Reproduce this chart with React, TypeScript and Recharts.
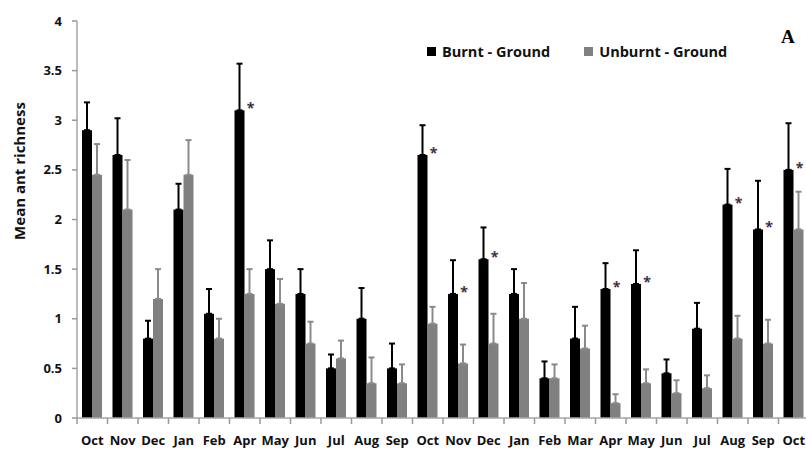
import React from "react";
import {
  BarChart,
  Bar,
  XAxis,
  YAxis,
  ErrorBar,
  Legend,
  Label,
} from "recharts";

const months = [
  "Oct", "Nov", "Dec", "Jan", "Feb", "Apr", "May", "Jun", "Jul", "Aug", "Sep", "Oct",
  "Nov", "Dec", "Jan", "Feb", "Mar", "Apr", "May", "Jun", "Jul", "Aug", "Sep", "Oct",
];
const burnt = [
  2.9, 2.65, 0.8, 2.1, 1.05, 3.1, 1.5, 1.25, 0.5, 1.0, 0.5, 2.65,
  1.25, 1.6, 1.25, 0.4, 0.8, 1.3, 1.35, 0.45, 0.9, 2.15, 1.9, 2.5,
];
const burntErr = [
  0.28, 0.37, 0.18, 0.26, 0.25, 0.47, 0.29, 0.25, 0.14, 0.31, 0.25, 0.3,
  0.34, 0.32, 0.25, 0.17, 0.32, 0.26, 0.34, 0.14, 0.26, 0.36, 0.49, 0.47,
];
const unburnt = [
  2.45, 2.1, 1.2, 2.45, 0.8, 1.25, 1.15, 0.75, 0.6, 0.35, 0.35, 0.95,
  0.55, 0.75, 1.0, 0.4, 0.7, 0.15, 0.35, 0.25, 0.3, 0.8, 0.75, 1.9,
];
const unburntErr = [
  0.31, 0.5, 0.3, 0.35, 0.2, 0.25, 0.25, 0.22, 0.18, 0.26, 0.19, 0.17,
  0.19, 0.3, 0.36, 0.14, 0.23, 0.09, 0.14, 0.13, 0.13, 0.23, 0.24, 0.38,
];
// months marked with an asterisk (significant difference)
const significant = [
  false, false, false, false, false, true, false, false, false, false, false, true,
  true, true, false, false, false, true, true, false, false, true, true, true,
];
const yTicks = [0, 0.5, 1, 1.5, 2, 2.5, 3, 3.5, 4];

const data = months.map((month, i) => ({
  month,
  burnt: burnt[i],
  unburnt: unburnt[i],
  burntErr: [0, burntErr[i]],
  unburntErr: [0, unburntErr[i]],
  sig: significant[i],
}));

const FONT = '"Open Sans", sans-serif';
const AXIS = "#a6a6a6";

function BurntShape(props: any) {
  const { x, y, width, height, payload } = props;
  return (
    <g>
      <rect x={x} y={y} width={width} height={height} fill="#000" />
      {payload && payload.sig ? (
        <text
          x={x + width + 6}
          y={y + 3}
          textAnchor="middle"
          fontSize={14}
          fontWeight="bold"
          fill="#14245a"
          stroke="#d98b3a"
          strokeWidth={0.25}
          fontFamily={FONT}
        >
          *
        </text>
      ) : null}
    </g>
  );
}

// month label plus a tick mark on the left edge of each category band
function MonthTick(props: any) {
  const { x, y, payload, index } = props;
  const half = payload && typeof payload.offset === "number" ? payload.offset : 0;
  const isLast = index === months.length - 1;
  return (
    <g>
      <line x1={x - half} y1={y} x2={x - half} y2={y + 6} stroke="#999" strokeWidth={1.5} />
      {isLast ? (
        <line x1={x + half} y1={y} x2={x + half} y2={y + 6} stroke="#999" strokeWidth={1.5} />
      ) : null}
      <text
        x={x}
        y={y + 27}
        textAnchor="middle"
        fontSize={13}
        fontWeight={700}
        fill="#111"
        fontFamily={FONT}
      >
        {payload.value}
      </text>
    </g>
  );
}

function LegendContent() {
  const items = [
    { label: "Burnt - Ground", color: "#000" },
    { label: "Unburnt - Ground", color: "#808080" },
  ];
  return (
    <div style={{ display: "flex", alignItems: "center", fontFamily: FONT }}>
      {items.map((it, i) => (
        <div
          key={it.label}
          style={{ display: "flex", alignItems: "center", marginRight: i === 0 ? 34 : 0 }}
        >
          <span style={{ width: 9, height: 9, background: it.color, display: "inline-block", marginRight: 6 }} />
          <span style={{ fontSize: 14.5, fontWeight: 700, color: "#111", whiteSpace: "nowrap" }}>{it.label}</span>
        </div>
      ))}
    </div>
  );
}

export default function App() {
  return (
    <div
      style={{
        position: "absolute",
        left: 0,
        top: 0,
        width: 806,
        height: 451,
        overflow: "hidden",
        background: "#fff",
      }}
    >
      <BarChart
        width={812}
        height={451}
        data={data}
        margin={{ top: 21, right: 3, left: 0, bottom: 0 }}
        barGap={0}
        barSize={10}
      >
        <XAxis
          dataKey="month"
          height={33}
          axisLine={{ stroke: AXIS, strokeWidth: 1.5 }}
          tickLine={false}
          tickSize={0}
          tickMargin={0}
          interval={0}
          tick={<MonthTick />}
        />
        <YAxis
          width={77}
          domain={[0, 4]}
          ticks={yTicks}
          interval={0}
          tickSize={5}
          tickMargin={10}
          axisLine={{ stroke: AXIS, strokeWidth: 1.5 }}
          tickLine={{ stroke: "#999", strokeWidth: 1.5 }}
          tick={{ fontSize: 13, fontWeight: 700, fill: "#111", fontFamily: FONT }}
        >
          <Label
            content={() => (
              <text
                transform="translate(25,171) rotate(-90)"
                textAnchor="middle"
                fontSize={15}
                fontWeight={700}
                fill="#111"
                fontFamily={FONT}
              >
                Mean ant richness
              </text>
            )}
          />
        </YAxis>
        <Legend
          verticalAlign="middle"
          align="center"
          content={<LegendContent />}
          wrapperStyle={{ top: 42, left: 427, width: 340 }}
        />
        <Bar dataKey="burnt" name="Burnt - Ground" fill="#000" shape={<BurntShape />} isAnimationActive={false}>
          <ErrorBar dataKey="burntErr" direction="y" width={3} strokeWidth={2} stroke="#000" />
        </Bar>
        <Bar dataKey="unburnt" name="Unburnt - Ground" fill="#808080" isAnimationActive={false}>
          <ErrorBar dataKey="unburntErr" direction="y" width={3} strokeWidth={2} stroke="#8a8a8a" />
        </Bar>
      </BarChart>
      <div
        style={{
          position: "absolute",
          left: 781,
          top: 26,
          fontFamily: '"Liberation Serif", serif',
          fontWeight: 700,
          fontSize: 19,
          color: "#000",
        }}
      >
        A
      </div>
    </div>
  );
}
